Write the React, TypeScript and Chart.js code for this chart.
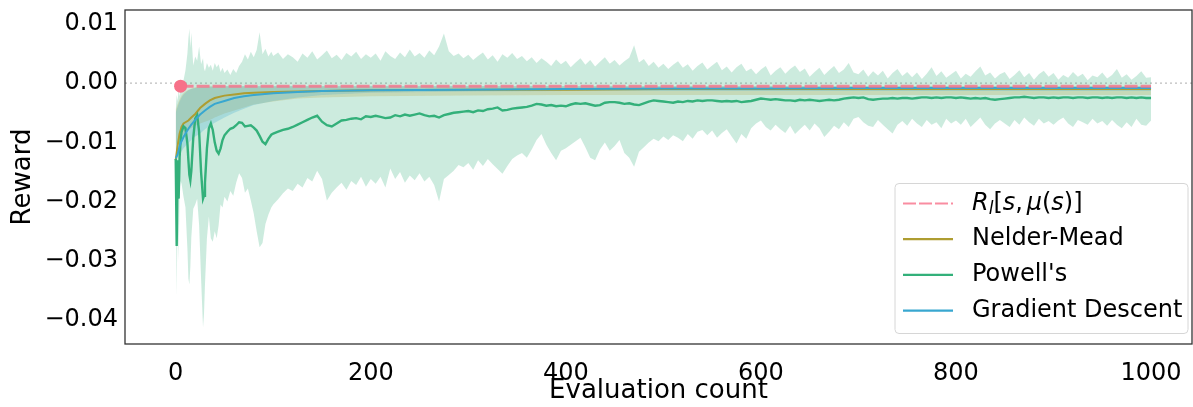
import React, { useEffect, useRef } from "react";
import { Chart, registerables } from "chart.js";
Chart.register(...registerables);

// ---------- data ----------
const X_TICKS = [0, 200, 400, 600, 800, 1000];
const Y_TICKS = [-0.04, -0.03, -0.02, -0.01, 0.0, 0.01];
const X_TITLE = "Evaluation count";
const Y_TITLE = "Reward";
const SERIES_NAMES = ["R_l[s, μ(s)]", "Nelder-Mead", "Powell's", "Gradient Descent"];

const RL_X = [5, 1000];
const RL_Y = [-0.0005, -0.0005];
const RL_DOT_X = [5];
const RL_DOT_Y = [-0.0005];

const SMOOTH_X = [0, 2, 4, 6, 8, 10, 13, 16, 20, 25, 30, 35, 40, 50, 60, 70, 80, 100, 125, 150, 200, 300, 400, 500, 600, 700, 800, 900, 1000];
const NM_MEAN = [-0.0130, -0.0105, -0.0085, -0.0074, -0.0068, -0.0066, -0.0063, -0.0058, -0.0052, -0.0042, -0.0035, -0.0029, -0.0025, -0.0021, -0.0019, -0.0017, -0.0016, -0.0015, -0.0014, -0.0013, -0.0012, -0.0011, -0.0011, -0.0010, -0.0010, -0.0010, -0.0010, -0.0010, -0.0010];
const NM_UPPER = [-0.0045, -0.0035, -0.0027, -0.0021, -0.0017, -0.0014, -0.0011, -0.0009, -0.0007, -0.0006, -0.0006, -0.0005, -0.0005, -0.0005, -0.0005, -0.0005, -0.0005, -0.0005, -0.0005, -0.0005, -0.0005, -0.0005, -0.0005, -0.0005, -0.0005, -0.0005, -0.0005, -0.0005, -0.0005];
const NM_LOWER = [-0.0105, -0.0100, -0.0095, -0.0090, -0.0086, -0.0083, -0.0080, -0.0076, -0.0072, -0.0068, -0.0065, -0.0062, -0.0058, -0.0051, -0.0046, -0.0041, -0.0036, -0.0031, -0.0026, -0.0024, -0.0022, -0.0021, -0.0020, -0.0020, -0.0020, -0.0020, -0.0020, -0.0020, -0.0020];
const GD_MEAN = [-0.0127, -0.0120, -0.0106, -0.0098, -0.0091, -0.0085, -0.0077, -0.0070, -0.0062, -0.0053, -0.0046, -0.0040, -0.0035, -0.0030, -0.0025, -0.0022, -0.0020, -0.0017, -0.0015, -0.0013, -0.0012, -0.0011, -0.0010, -0.0009, -0.0009, -0.0008, -0.0008, -0.0008, -0.0008];
const GD_UPPER = [-0.0050, -0.0040, -0.0031, -0.0024, -0.0019, -0.0016, -0.0012, -0.0010, -0.0008, -0.0007, -0.0006, -0.0006, -0.0006, -0.0005, -0.0005, -0.0005, -0.0005, -0.0005, -0.0005, -0.0005, -0.0005, -0.0005, -0.0005, -0.0005, -0.0005, -0.0005, -0.0005, -0.0005, -0.0005];
const GD_LOWER = [-0.0130, -0.0125, -0.0120, -0.0115, -0.0110, -0.0106, -0.0101, -0.0096, -0.0090, -0.0085, -0.0078, -0.0072, -0.0067, -0.0058, -0.0050, -0.0043, -0.0037, -0.0030, -0.0024, -0.0020, -0.0016, -0.0014, -0.0013, -0.0013, -0.0013, -0.0013, -0.0013, -0.0013, -0.0013];

const POWELL_X = [
  0, 1, 2, 3, 4, 5, 6, 8, 10, 12, 13, 14, 15, 16, 18, 20, 22, 24, 26, 28, 29, 30, 32, 34,
  36, 38, 40, 42, 44, 46, 48, 50, 53, 56, 59, 62, 65, 68, 71, 74, 77, 80, 83, 86, 89, 92, 95, 98,
  100, 105, 110, 115, 120, 125, 130, 135, 140, 145,
  150, 155, 160, 165, 170, 175, 180, 185, 190, 195,
  200, 205, 210, 215, 220, 225, 230, 235, 240, 245,
  250, 255, 260, 265, 270, 275, 280, 285, 290, 295,
  300, 305, 310, 315, 320, 325, 330, 335, 340, 345,
  350, 355, 360, 365, 370, 375, 380, 385, 390, 395,
  400, 405, 410, 415, 420, 425, 430, 435, 440, 445,
  450, 455, 460, 465, 470, 475, 480, 485, 490, 495,
  500, 505, 510, 515, 520, 525, 530, 535, 540, 545,
  550, 555, 560, 565, 570, 575, 580, 585, 590, 595,
  600, 605, 610, 615, 620, 625, 630, 635, 640, 645,
  650, 655, 660, 665, 670, 675, 680, 685, 690, 695,
  700, 705, 710, 715, 720, 725, 730, 735, 740, 745,
  750, 755, 760, 765, 770, 775, 780, 785, 790, 795,
  800, 805, 810, 815, 820, 825, 830, 835, 840, 845,
  850, 855, 860, 865, 870, 875, 880, 885, 890, 895,
  900, 905, 910, 915, 920, 925, 930, 935, 940, 945,
  950, 955, 960, 965, 970, 975, 980, 985, 990, 995,
  1000,
];
const POWELL_MEAN = [
  -0.0128, -0.0275, -0.0130, -0.0195, -0.0125, -0.0098, -0.0082, -0.0073, -0.0076, -0.0102, -0.0130, -0.0155, -0.0164, -0.0148, -0.0092, -0.0060, -0.0054, -0.0082, -0.0150, -0.0195, -0.0190, -0.0168, -0.0110, -0.0076,
  -0.0068, -0.0079, -0.0100, -0.0114, -0.0119, -0.0110, -0.0096, -0.0088, -0.0082, -0.0077, -0.0075, -0.0071, -0.0066, -0.0067, -0.0073, -0.0072, -0.0071, -0.0075, -0.0080, -0.0089, -0.0099, -0.0103, -0.0094, -0.0087,
  -0.0085, -0.0082, -0.0079, -0.0077, -0.0074, -0.0070, -0.0066, -0.0062, -0.0058, -0.0055,
  -0.0065, -0.0071, -0.0073, -0.0068, -0.0063, -0.0062, -0.0060, -0.0059, -0.0061, -0.0056,
  -0.0057, -0.0055, -0.0057, -0.0059, -0.0058, -0.0054, -0.0056, -0.0053, -0.0055, -0.0053,
  -0.0051, -0.0054, -0.0056, -0.0055, -0.0058, -0.0054, -0.0052, -0.0050, -0.0049, -0.0048,
  -0.0047, -0.0049, -0.0046, -0.0047, -0.0044, -0.0043, -0.0041, -0.0046, -0.0045, -0.0043,
  -0.0042, -0.0041, -0.0040, -0.0038, -0.0035, -0.0036, -0.0038, -0.0037, -0.0039, -0.0038,
  -0.0039, -0.0036, -0.0034, -0.0035, -0.0034, -0.0036, -0.0038, -0.0037, -0.0033, -0.0032,
  -0.0032, -0.0033, -0.0035, -0.0034, -0.0036, -0.0037, -0.0034, -0.0031, -0.0029, -0.0030,
  -0.0031, -0.0032, -0.0033, -0.0031, -0.0032, -0.0030, -0.0031, -0.0029, -0.0030, -0.0029,
  -0.0029, -0.0030, -0.0031, -0.0030, -0.0031, -0.0030, -0.0032, -0.0031, -0.0030, -0.0028,
  -0.0026, -0.0027, -0.0028, -0.0027, -0.0028, -0.0029, -0.0029, -0.0030, -0.0028, -0.0029,
  -0.0028, -0.0029, -0.0030, -0.0029, -0.0028, -0.0029, -0.0028, -0.0026, -0.0025, -0.0024,
  -0.0025, -0.0024, -0.0027, -0.0028, -0.0027, -0.0026, -0.0026, -0.0025, -0.0026, -0.0025,
  -0.0025, -0.0026, -0.0025, -0.0024, -0.0024, -0.0025, -0.0024, -0.0025, -0.0024, -0.0024,
  -0.0025, -0.0024, -0.0025, -0.0026, -0.0025, -0.0026, -0.0025, -0.0027, -0.0028, -0.0027,
  -0.0026, -0.0025, -0.0024, -0.0024, -0.0023, -0.0024, -0.0025, -0.0024, -0.0024, -0.0025,
  -0.0024, -0.0025, -0.0024, -0.0024, -0.0025, -0.0024, -0.0024, -0.0025, -0.0024, -0.0024,
  -0.0025, -0.0024, -0.0025, -0.0024, -0.0024, -0.0025, -0.0024, -0.0025, -0.0024, -0.0025,
  -0.0025,
];
const POWELL_UPPER = [
  -0.0045, -0.0020, -0.0030, -0.0010, -0.0022, -0.0012, -0.0005, 0.0005, 0.0022, 0.0050, 0.0075, 0.0092, 0.0060, 0.0085, 0.0030, 0.0045, 0.0038, 0.0062, 0.0032, 0.0042, 0.0025, 0.0020, 0.0034, 0.0026,
  0.0031, 0.0021, 0.0034, 0.0027, 0.0032, 0.0019, 0.0026, 0.0017, 0.0023, 0.0014, 0.0024, 0.0017, 0.0029, 0.0036, 0.0049, 0.0040, 0.0053, 0.0044, 0.0056, 0.0086, 0.0049, 0.0058, 0.0045, 0.0053,
  0.0046, 0.0052, 0.0041, 0.0049, 0.0044, 0.0036, 0.0050, 0.0043, 0.0054, 0.0040,
  0.0047, 0.0055, 0.0042, 0.0048, 0.0039, 0.0051, 0.0045, 0.0053, 0.0041, 0.0049,
  0.0043, 0.0050, 0.0038, 0.0054, 0.0046, 0.0041, 0.0052, 0.0044, 0.0057, 0.0045,
  0.0051, 0.0043, 0.0055, 0.0047, 0.0062, 0.0084, 0.0054, 0.0046, 0.0050, 0.0042,
  0.0048, 0.0039, 0.0046, 0.0052, 0.0040, 0.0047, 0.0036, 0.0049, 0.0043, 0.0051,
  0.0041, 0.0046, 0.0037, 0.0044, 0.0034, 0.0042, 0.0036, 0.0029, 0.0040, 0.0032,
  0.0038, 0.0027, 0.0035, 0.0042, 0.0031, 0.0039, 0.0028, 0.0036, 0.0044, 0.0033,
  0.0039, 0.0030, 0.0037, 0.0043, 0.0064, 0.0035, 0.0041, 0.0029, 0.0036, 0.0026,
  0.0033, 0.0024, 0.0031, 0.0037, 0.0026, 0.0032, 0.0021, 0.0029, 0.0035, 0.0023,
  0.0030, 0.0036, 0.0022, 0.0028, 0.0018, 0.0027, 0.0033, 0.0020, 0.0025, 0.0015,
  0.0023, 0.0029, 0.0013, 0.0021, 0.0027, 0.0016, 0.0024, 0.0030, 0.0019, 0.0025,
  0.0011, 0.0019, 0.0026, 0.0014, 0.0022, 0.0029, 0.0017, 0.0023, 0.0034, 0.0018,
  0.0015, 0.0023, 0.0011, 0.0020, 0.0013, 0.0021, 0.0008, 0.0017, 0.0024, 0.0012,
  0.0019, 0.0010, 0.0018, 0.0007, 0.0016, 0.0027, 0.0012, 0.0020, 0.0009, 0.0015,
  0.0021, 0.0008, 0.0016, 0.0011, 0.0020, 0.0028, 0.0013, 0.0018, 0.0008, 0.0015,
  0.0019, 0.0007, 0.0014, 0.0022, 0.0010, 0.0017, 0.0006, 0.0015, 0.0021, 0.0011,
  0.0017, 0.0006, 0.0014, 0.0009, 0.0019, 0.0011, 0.0016, 0.0005, 0.0013, 0.0010,
  0.0018, 0.0008, 0.0014, 0.0024, 0.0009, 0.0015, 0.0006, 0.0012, 0.0020, 0.0009,
  0.0010,
];
const POWELL_LOWER = [
  -0.0150, -0.0360, -0.0200, -0.0300, -0.0180, -0.0165, -0.0170, -0.0192, -0.0210, -0.0280, -0.0330, -0.0340, -0.0310, -0.0260, -0.0212, -0.0205, -0.0195, -0.0240, -0.0330, -0.0412, -0.0390, -0.0340, -0.0262, -0.0225,
  -0.0262, -0.0268, -0.0250, -0.0262, -0.0240, -0.0205, -0.0210, -0.0192, -0.0200, -0.0182, -0.0190, -0.0168, -0.0152, -0.0160, -0.0185, -0.0178, -0.0198, -0.0220, -0.0250, -0.0277, -0.0270, -0.0238, -0.0222, -0.0210,
  -0.0205, -0.0196, -0.0186, -0.0178, -0.0182, -0.0170, -0.0176, -0.0160, -0.0166, -0.0148,
  -0.0162, -0.0198, -0.0185, -0.0176, -0.0168, -0.0180, -0.0165, -0.0172, -0.0158, -0.0175,
  -0.0162, -0.0170, -0.0158, -0.0176, -0.0144, -0.0162, -0.0150, -0.0168, -0.0156, -0.0164,
  -0.0152, -0.0166, -0.0158, -0.0172, -0.0200, -0.0162, -0.0155, -0.0148, -0.0138, -0.0142,
  -0.0135, -0.0146, -0.0130, -0.0140, -0.0128, -0.0137, -0.0145, -0.0153, -0.0140, -0.0128,
  -0.0122, -0.0118, -0.0126, -0.0112, -0.0096, -0.0086, -0.0104, -0.0118, -0.0130, -0.0114,
  -0.0110, -0.0104, -0.0098, -0.0092, -0.0108, -0.0126, -0.0130, -0.0112, -0.0100, -0.0114,
  -0.0106, -0.0096, -0.0118, -0.0126, -0.0141, -0.0116, -0.0108, -0.0100, -0.0094, -0.0098,
  -0.0090, -0.0096, -0.0088, -0.0092, -0.0098, -0.0086, -0.0094, -0.0082, -0.0079, -0.0088,
  -0.0080, -0.0092, -0.0084, -0.0078, -0.0090, -0.0102, -0.0086, -0.0094, -0.0076, -0.0068,
  -0.0063, -0.0074, -0.0080, -0.0070, -0.0078, -0.0084, -0.0072, -0.0086, -0.0078, -0.0070,
  -0.0080, -0.0068, -0.0076, -0.0091, -0.0082, -0.0072, -0.0078, -0.0066, -0.0074, -0.0060,
  -0.0057, -0.0066, -0.0072, -0.0074, -0.0062, -0.0070, -0.0078, -0.0085, -0.0070, -0.0064,
  -0.0072, -0.0060, -0.0068, -0.0074, -0.0062, -0.0070, -0.0066, -0.0076, -0.0060, -0.0068,
  -0.0063, -0.0070, -0.0060, -0.0074, -0.0066, -0.0058, -0.0070, -0.0078, -0.0068, -0.0062,
  -0.0068, -0.0074, -0.0062, -0.0070, -0.0058, -0.0066, -0.0072, -0.0060, -0.0068, -0.0064,
  -0.0070, -0.0063, -0.0058, -0.0068, -0.0074, -0.0062, -0.0066, -0.0070, -0.0060, -0.0068,
  -0.0064, -0.0072, -0.0062, -0.0070, -0.0076, -0.0066, -0.0074, -0.0060, -0.0070, -0.0072,
  -0.0063,
];

// ---------- style ----------
const PINK = "#f77189";
const OLIVE = "#ae9d31";
const GREEN = "#33b07a";
const BLUE = "#38a7d0";
const FONT = "'DejaVu Sans', 'Liberation Sans', sans-serif";

const pts = (xs: number[], ys: number[]) => xs.map((x, i) => ({ x, y: ys[i] }));

const fmtY = (v: number) => (v < -1e-9 ? "\u2212" : "") + Math.abs(v).toFixed(2);

const zeroLinePlugin = {
  id: "zeroLine",
  beforeDatasetsDraw(chart: any) {
    const { ctx, chartArea, scales } = chart;
    const y = scales.y.getPixelForValue(0);
    ctx.save();
    ctx.strokeStyle = "#bdbdbd";
    ctx.lineWidth = 1.2;
    ctx.setLineDash([2, 3]);
    ctx.beginPath();
    ctx.moveTo(chartArea.left, y);
    ctx.lineTo(chartArea.right, y);
    ctx.stroke();
    ctx.restore();
  },
};

const framePlugin = {
  id: "frame",
  afterDraw(chart: any) {
    const { ctx, chartArea } = chart;
    ctx.save();
    ctx.strokeStyle = "#333333";
    ctx.lineWidth = 1.3;
    ctx.strokeRect(chartArea.left, chartArea.top, chartArea.right - chartArea.left, chartArea.bottom - chartArea.top);
    ctx.restore();
  },
};

const legendPlugin = {
  id: "boxLegend",
  afterDraw(chart: any) {
    const { ctx, chartArea } = chart;
    const bx = chartArea.right - 297;
    const by = chartArea.top + 173.5;
    const bw = 293;
    const bh = 150;
    const r = 4;
    ctx.save();
    ctx.beginPath();
    ctx.moveTo(bx + r, by);
    ctx.lineTo(bx + bw - r, by);
    ctx.quadraticCurveTo(bx + bw, by, bx + bw, by + r);
    ctx.lineTo(bx + bw, by + bh - r);
    ctx.quadraticCurveTo(bx + bw, by + bh, bx + bw - r, by + bh);
    ctx.lineTo(bx + r, by + bh);
    ctx.quadraticCurveTo(bx, by + bh, bx, by + bh - r);
    ctx.lineTo(bx, by + r);
    ctx.quadraticCurveTo(bx, by, bx + r, by);
    ctx.closePath();
    ctx.fillStyle = "rgba(255,255,255,0.85)";
    ctx.fill();
    ctx.strokeStyle = "#d6d6d6";
    ctx.lineWidth = 1;
    ctx.stroke();

    const colors = [PINK, OLIVE, GREEN, BLUE];
    const hx0 = bx + 8;
    const hx1 = bx + 58;
    const tx = bx + 77;
    for (let i = 0; i < SERIES_NAMES.length; i++) {
      const y = by + 20 + i * 35.7;
      ctx.beginPath();
      ctx.strokeStyle = colors[i];
      ctx.globalAlpha = i === 0 ? 0.8 : 1;
      ctx.lineWidth = 2.2;
      ctx.setLineDash(i === 0 ? [13, 3] : []);
      ctx.moveTo(hx0, y);
      ctx.lineTo(hx1, y);
      ctx.stroke();
      ctx.setLineDash([]);
      ctx.globalAlpha = 1;
      ctx.fillStyle = "#000";
      ctx.textBaseline = "middle";
      ctx.textAlign = "left";
      if (i === 0) {
        const parts: [string, string, number][] = [
          ["R", "italic", 0],
          ["l", "italic-sub", 6],
          ["[", "normal", 0],
          ["s", "italic", 0],
          [",", "normal", 0],
          [" ", "thin", 0],
          ["μ", "italic", 0],
          ["(", "normal", 0],
          ["s", "italic", 0],
          [")]", "normal", 0],
        ];
        let x = tx;
        for (const [t, st, dy] of parts) {
          if (st === "italic") ctx.font = `oblique 24px ${FONT}`;
          else if (st === "italic-sub") ctx.font = `oblique 17px ${FONT}`;
          else if (st === "thin") ctx.font = `12px ${FONT}`;
          else ctx.font = `24px ${FONT}`;
          ctx.fillText(t, x, y + dy);
          x += ctx.measureText(t).width;
        }
      } else {
        ctx.font = `24px ${FONT}`;
        ctx.fillText(SERIES_NAMES[i], tx, y);
      }
    }
    ctx.restore();
  },
};

export default function App() {
  const ref = useRef<HTMLCanvasElement | null>(null);
  useEffect(() => {
    if (!ref.current) return;
    const line = (data: any, color: string, width: number, extra: any = {}) => ({
      data,
      borderColor: color,
      backgroundColor: color,
      borderWidth: width,
      pointRadius: 0,
      fill: false,
      tension: 0,
      ...extra,
    });
    const edge = (data: any) => ({
      data,
      borderWidth: 0,
      borderColor: "rgba(0,0,0,0)",
      pointRadius: 0,
      fill: false,
      tension: 0,
    });
    const chart = new Chart(ref.current, {
      type: "line",
      data: {
        datasets: [
          line(pts(RL_DOT_X, RL_DOT_Y), PINK, 0, { pointRadius: 6.5, pointBackgroundColor: PINK, pointBorderWidth: 0, showLine: false }),
          line(pts(RL_X, RL_Y), "rgba(247,113,137,0.8)", 3, { borderDash: [13, 3] }),
          line(pts(SMOOTH_X, GD_MEAN), BLUE, 2),
          line(pts(POWELL_X, POWELL_MEAN), GREEN, 2.4),
          line(pts(SMOOTH_X, NM_MEAN), OLIVE, 2),
          edge(pts(SMOOTH_X, GD_LOWER)),
          { ...edge(pts(SMOOTH_X, GD_UPPER)), fill: "-1", backgroundColor: "rgba(56,167,208,0.25)" },
          edge(pts(SMOOTH_X, NM_LOWER)),
          { ...edge(pts(SMOOTH_X, NM_UPPER)), fill: "-1", backgroundColor: "rgba(174,157,49,0.22)" },
          edge(pts(POWELL_X, POWELL_LOWER)),
          { ...edge(pts(POWELL_X, POWELL_UPPER)), fill: "-1", backgroundColor: "rgba(51,176,122,0.25)" },
        ],
      },
      options: {
        responsive: false,
        animation: false,
        layout: { autoPadding: false, padding: { top: 10, right: 1, left: 0, bottom: 0 } },
        plugins: { legend: { display: false }, tooltip: { enabled: false } },
        scales: {
          x: {
            type: "linear",
            min: -52,
            max: 1042,
            afterBuildTicks: (s: any) => {
              s.ticks = X_TICKS.map((v) => ({ value: v }));
            },
            afterFit: (s: any) => {
              s.height = 63;
              s.paddingLeft = 0;
              s.paddingRight = 0;
            },
            grid: { display: false, drawTicks: false },
            border: { display: false },
            ticks: {
              color: "#000",
              font: { family: FONT, size: 24 },
              padding: 15,
              maxRotation: 0,
              autoSkip: false,
              callback: (v: any) => String(v),
            },
            title: {
              display: true,
              text: X_TITLE,
              color: "#000",
              font: { family: FONT, size: 26 },
              padding: { top: 0, bottom: 0 },
            },
          },
          y: {
            type: "linear",
            min: -0.04405,
            max: 0.01236,
            afterBuildTicks: (s: any) => {
              s.ticks = Y_TICKS.map((v) => ({ value: v }));
            },
            afterFit: (s: any) => {
              s.width = 125;
              s.paddingTop = 0;
              s.paddingBottom = 0;
            },
            grid: { display: false, drawTicks: false },
            border: { display: false },
            ticks: {
              color: "#000",
              font: { family: FONT, size: 24 },
              padding: 7,
              autoSkip: false,
              callback: (v: any) => fmtY(Number(v)),
            },
            title: {
              display: true,
              text: Y_TITLE,
              color: "#000",
              font: { family: FONT, size: 26 },
              padding: { top: 8, bottom: 0 },
            },
          },
        },
      },
      plugins: [zeroLinePlugin, framePlugin, legendPlugin],
    } as any);
    return () => chart.destroy();
  }, []);
  return (
    <div style={{ position: "absolute", left: 0, top: 0, width: 1193, height: 407, background: "#fff" }}>
      <canvas ref={ref} width={1193} height={407} style={{ display: "block" }} />
    </div>
  );
}
